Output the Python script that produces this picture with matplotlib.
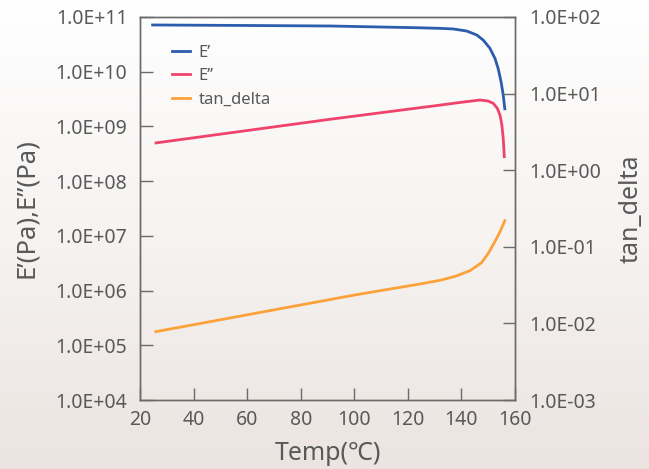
import numpy as np
import matplotlib
matplotlib.use("Agg")
import matplotlib.pyplot as plt
from matplotlib.ticker import LogLocator, FuncFormatter, NullLocator
from matplotlib.colors import LinearSegmentedColormap

plt.rcParams['font.family'] = ['Noto Sans', 'Noto Sans CJK JP', 'DejaVu Sans']

# ---- data ----
temp_e1 = [24.7, 60.0, 90.9, 124.5, 132.0, 136.9, 141.9, 145.7, 148.1, 150.6,
           152.5, 153.7, 154.8, 155.6, 156.2]
e_storage = [7.15e10, 7.0e10, 6.85e10, 6.35e10, 6.2e10, 6.05e10, 5.55e10, 4.7e10, 3.8e10, 2.7e10,
             1.76e10, 1.15e10, 6.55e9, 3.75e9, 2.1e9]

temp_e2 = [26.0, 90.9, 124.5, 132.0, 139.4, 146.9, 150.0, 151.9, 153.4, 154.4,
           155.1, 155.6, 156.0]
e_loss = [5.0e8, 1.35e9, 2.2e9, 2.45e9, 2.74e9, 3.04e9, 2.91e9, 2.64e9, 2.14e9, 1.61e9,
          1.06e9, 6.05e8, 2.8e8]

temp_tan = [25.9, 100.2, 124.5, 132.0, 138.0, 143.2, 147.5, 150.0, 152.5, 154.4, 156.2]
tan_delta = [0.0078, 0.0235, 0.0327, 0.0365, 0.0415, 0.0488, 0.062, 0.082, 0.117, 0.157, 0.219]

labels = ["E\u2019", "E\u2019\u2019", "tan_delta"]
colors = ["#2b5cad", "#f0436c", "#fba23a"]

W, H = 649, 469
fig = plt.figure(figsize=(W / 100, H / 100), dpi=100)

# background gradient
bg = fig.add_axes([0, 0, 1, 1], zorder=-10)
cmap = LinearSegmentedColormap.from_list("bg", ["#ffffff", "#f6f3f1", "#ebe4e1"])
bg.imshow(np.linspace(0, 1, 256).reshape(-1, 1), aspect="auto", cmap=cmap,
          extent=[0, 1, 0, 1], origin="upper")
bg.axis("off")

ax = fig.add_axes([140 / W, 1 - 400 / H, 375 / W, 383 / H])
ax.patch.set_alpha(0)
ax2 = ax.twinx()
ax2.patch.set_alpha(0)

lw = 2.0
l1, = ax.plot(temp_e1, e_storage, color=colors[0], lw=lw, label=labels[0])
l2, = ax.plot(temp_e2, e_loss, color=colors[1], lw=lw, label=labels[1])
l3, = ax2.plot(temp_tan, tan_delta, color=colors[2], lw=lw, label=labels[2])

ax.set_xlim(20, 160)
ax.set_yscale("log")
ax.set_ylim(1e4, 1e11)
ax2.set_yscale("log")
ax2.set_ylim(1e-3, 1e2)

def sci(v, pos):
    e = int(round(np.log10(v)))
    return f"1.0E{e:+03d}"

tc = "#595959"
for a in (ax, ax2):
    a.yaxis.set_major_locator(LogLocator(base=10, numticks=20))
    a.yaxis.set_minor_locator(NullLocator())
    a.yaxis.set_major_formatter(FuncFormatter(sci))
    for s in a.spines.values():
        s.set_color("#6a6a6a")
        s.set_linewidth(1.0)

ax.set_xticks([20, 40, 60, 80, 100, 120, 140, 160])
ax.tick_params(axis="both", direction="in", length=9, width=1.0, color="#6a6a6a",
               labelsize=14, labelcolor=tc, pad=9)
ax.tick_params(axis="x", pad=7)
ax2.tick_params(axis="y", direction="in", length=9, width=1.0, color="#6a6a6a",
                labelsize=14, labelcolor=tc, pad=10)

ax.set_xlabel("Temp(\u2103)", fontsize=18, color=tc, labelpad=8)
ax.set_ylabel("E\u2019(Pa),E\u201d(Pa)", fontsize=18.5, color=tc)
ax2.set_ylabel("tan_delta", fontsize=18, color=tc)
ax.yaxis.set_label_coords((39 - 140) / 375, 0.5)
ax2.yaxis.set_label_coords((619 - 140) / 375, 0.5)

leg = ax.legend(handles=[l1, l2, l3], loc="upper left",
                bbox_to_anchor=(165 / W, 1 - 38 / H), bbox_transform=fig.transFigure,
                frameon=False, fontsize=12, handlelength=1.1, handletextpad=0.5,
                labelspacing=0.45, borderaxespad=0)
for t in leg.get_texts():
    t.set_color(tc)

fig.savefig("out.png", dpi=100)
